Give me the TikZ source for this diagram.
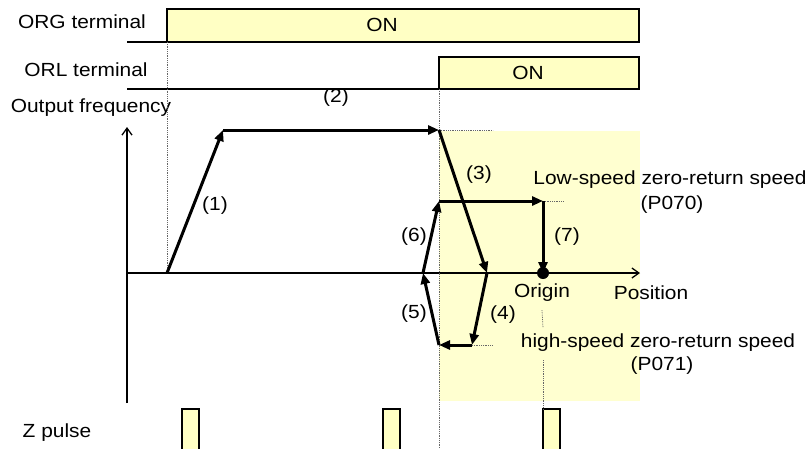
\documentclass[tikz,border=0pt]{standalone}
\usepackage{fontspec}
\setmainfont{Liberation Sans}[FakeStretch=1.1]
\usepackage{tikz}
\usetikzlibrary{arrows.meta, positioning, calc}
\definecolor{yellow1}{RGB}{255, 255, 196}
\definecolor{yellow2}{RGB}{255, 255, 208}

\begin{document}
\begin{tikzpicture}[x=1pt, y=-1pt, font=\fontsize{19}{22}\selectfont,
    sig/.style={draw=black, line width=2pt, fill=yellow1},
    base/.style={line width=1.3pt},
    guide/.style={black!60, densely dotted, line width=0.8pt},
    move/.style={line width=3pt, -{Triangle[length=11pt, width=9pt]}},
    axis/.style={line width=1.3pt, -{Straight Barb[length=7pt, width=10pt]}},
    lbl/.style={inner sep=0pt}]
  \useasboundingbox (0,0) rectangle (811,448);

  % zone after the ORL edge
  \fill[yellow2] (439,131) rectangle (640,401);

  % terminal rows
  \node[lbl] (orgname) at (82,22) {ORG terminal};
  \node[lbl] (orlname) at (86,70) {ORL terminal};
  \coordinate (orgoff) at (127,42);
  \coordinate (orgon) at (167,42);
  \coordinate (orgend) at (639,9);
  \coordinate (orloff) at (127,89);
  \coordinate (orlon) at (439,89);
  \coordinate (orlend) at (639,57);
  \draw[base] (orgoff) -- (orgon);
  \draw[sig] (orgon) rectangle (orgend);
  \node[lbl] (orgstate) at (382,25) {ON};
  \draw[base] (orloff) -- (orlon);
  \draw[sig] (orlon) rectangle (orlend);
  \node[lbl] (orlstate) at (528,73) {ON};

  % axes
  \coordinate (O) at (127,273);
  \coordinate (ytop) at (127,127);
  \coordinate (ybot) at (127,403);
  \coordinate (xend) at (640,273);
  \draw[axis] (ybot) -- (ytop);
  \draw[axis] (O) -- (xend);
  \node[lbl] (yname) at (91,108) {Output frequency};
  \node[lbl] (xname) at (651,293) {Position};

  % corners of the speed profile
  \coordinate (p1) at (167,273);
  \coordinate (p2) at (223,130);
  \coordinate (p3) at (439,130);
  \coordinate (p4) at (487,273);
  \coordinate (p5) at (472,345);
  \coordinate (p6) at (439,345);
  \coordinate (p7) at (423,273);
  \coordinate (p8) at (439,201);
  \coordinate (p9) at (543,201);
  \coordinate (origin) at (543,273);

  % dotted guides
  \draw[guide] (orgon) -- (p1);
  \draw[guide] (orlon) -- (439,448);
  \draw[guide] (p3) -- ++(54,0);
  \draw[guide] (p9) -- ++(20,0);
  \draw[guide] (p5) -- ++(21,0);

  % speed profile
  \draw[move] (p1) -- (p2);
  \draw[move] (p2) -- (p3);
  \draw[move] (p3) -- (p4);
  \draw[move] (p4) -- (p5);
  \draw[move] (p5) -- (p6);
  \draw[move] (p6) -- (p7);
  \draw[move] (p7) -- (p8);
  \draw[move] (p8) -- (p9);
  \draw[move] (p9) -- (origin);
  \fill (origin) circle (6pt);

  \node[lbl] (s1) at (215,206) {(1)};
  \node[lbl] (s2) at (336,98) {(2)};
  \node[lbl] (s3) at (479,175) {(3)};
  \node[lbl] (s4) at (503,315) {(4)};
  \node[lbl] (s5) at (414,314) {(5)};
  \node[lbl] (s6) at (414,237) {(6)};
  \node[lbl] (s7) at (567,237) {(7)};

  \node[lbl] (oname) at (542,293) {Origin};
  \node[lbl] (lowname) at (670,180) {Low-speed zero-return speed};
  \node[lbl] (lowpar) at (672,205) {(P070)};
  \node[lbl] (highname) at (658,343) {high-speed zero-return speed};
  \node[lbl] (highpar) at (662,366) {(P071)};

  % Z pulse row
  \node[lbl] (zname) at (57,433) {Z pulse};
  \foreach \x in {182, 383, 543}
    \draw[sig, line width=1.5pt] (\x,449) |- (\x+17,409) -- (\x+17,449);
  \draw[guide] ($(oname.south)+(0,8)$) -- ($(highname.north-|origin)+(0,-6)$);
  \draw[guide] ($(highname.south-|origin)+(0,8)$) -- (543,409);
\end{tikzpicture}
\end{document}
